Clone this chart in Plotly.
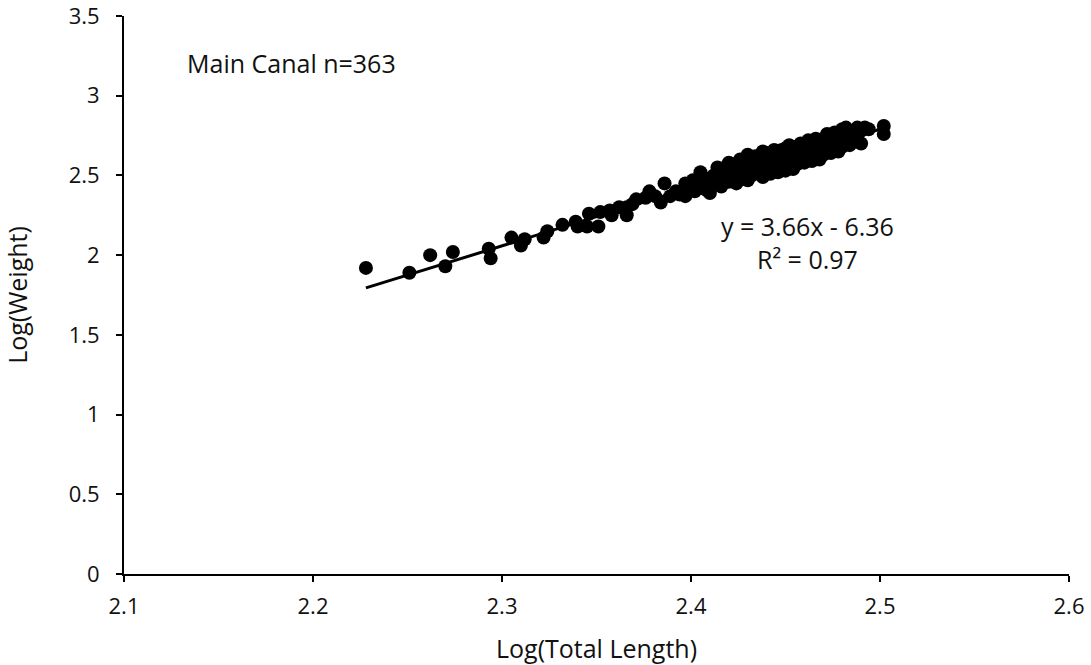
import plotly.graph_objects as go

# Sparse lower points
x_low = [2.228, 2.251, 2.262, 2.270, 2.274, 2.293, 2.294, 2.305, 2.310, 2.312,
         2.322, 2.324, 2.332, 2.339, 2.340, 2.345, 2.351, 2.346, 2.352, 2.357,
         2.358, 2.362, 2.366, 2.366, 2.369, 2.371, 2.376, 2.378, 2.381, 2.384,
         2.386, 2.389, 2.392, 2.394, 2.397, 2.397, 2.399, 2.401, 2.405, 2.405,
         2.407, 2.410, 2.411, 2.414, 2.416, 2.419, 2.421, 2.423]
y_low = [1.92, 1.89, 2.00, 1.93, 2.02, 2.04, 1.98, 2.11, 2.06, 2.10,
         2.11, 2.15, 2.19, 2.21, 2.18, 2.18, 2.18, 2.26, 2.27, 2.28,
         2.25, 2.30, 2.30, 2.25, 2.32, 2.35, 2.36, 2.40, 2.37, 2.33,
         2.45, 2.37, 2.40, 2.38, 2.37, 2.45, 2.43, 2.47, 2.44, 2.52,
         2.44, 2.39, 2.47, 2.55, 2.45, 2.50, 2.52, 2.57]

# Dense upper cluster
x_high = [2.402, 2.402, 2.404, 2.406, 2.408, 2.410, 2.412, 2.412, 2.414, 2.416,
          2.416, 2.418, 2.420, 2.420, 2.420, 2.422, 2.424, 2.424, 2.426, 2.426,
          2.428, 2.430, 2.430, 2.430, 2.430, 2.432, 2.432, 2.434, 2.436, 2.436,
          2.436, 2.438, 2.438, 2.440, 2.440, 2.440, 2.442, 2.442, 2.442, 2.444,
          2.444, 2.444, 2.446, 2.446, 2.446, 2.448, 2.448, 2.450, 2.450, 2.450,
          2.450, 2.452, 2.452, 2.454, 2.454, 2.454, 2.456, 2.456, 2.456, 2.458,
          2.458, 2.460, 2.460, 2.460, 2.462, 2.462, 2.464, 2.464, 2.464, 2.466,
          2.466, 2.468, 2.468, 2.468, 2.470, 2.470, 2.470, 2.472, 2.472, 2.474,
          2.474, 2.476, 2.476, 2.478, 2.478, 2.478, 2.480, 2.480, 2.482, 2.482,
          2.484, 2.484, 2.486, 2.486, 2.488, 2.490, 2.490, 2.494, 2.502, 2.502,
          2.418, 2.426, 2.434, 2.438, 2.448, 2.452, 2.458, 2.462, 2.466, 2.472,
          2.476, 2.480, 2.484, 2.488, 2.492, 2.444, 2.440, 2.456, 2.470, 2.480]
y_high = [2.40, 2.45, 2.42, 2.46, 2.41, 2.48, 2.44, 2.50, 2.47, 2.43,
          2.52, 2.49, 2.46, 2.53, 2.58, 2.48, 2.51, 2.45, 2.55, 2.49,
          2.52, 2.47, 2.56, 2.53, 2.63, 2.50, 2.58, 2.54, 2.52, 2.60,
          2.57, 2.49, 2.55, 2.64, 2.58, 2.53, 2.56, 2.61, 2.51, 2.59,
          2.54, 2.66, 2.57, 2.62, 2.52, 2.60, 2.55, 2.63, 2.58, 2.53,
          2.67, 2.61, 2.56, 2.64, 2.59, 2.54, 2.62, 2.68, 2.57, 2.65,
          2.60, 2.63, 2.58, 2.69, 2.66, 2.61, 2.64, 2.70, 2.59, 2.67,
          2.62, 2.65, 2.71, 2.60, 2.68, 2.63, 2.73, 2.66, 2.70, 2.64,
          2.69, 2.72, 2.67, 2.70, 2.75, 2.65, 2.73, 2.68, 2.80, 2.71,
          2.74, 2.69, 2.72, 2.77, 2.75, 2.70, 2.78, 2.79, 2.81, 2.76,
          2.55, 2.60, 2.62, 2.65, 2.66, 2.69, 2.70, 2.72, 2.73, 2.76,
          2.77, 2.79, 2.78, 2.80, 2.80, 2.62, 2.56, 2.64, 2.66, 2.70]

x_data = x_low + x_high
y_data = y_low + y_high

slope, intercept = 3.66, -6.36
r_squared = 0.97
trend_x = [min(x_data), max(x_data)]
trend_y = [slope * v + intercept for v in trend_x]

x_ticks = [2.1, 2.2, 2.3, 2.4, 2.5, 2.6]
y_ticks = [0, 0.5, 1, 1.5, 2, 2.5, 3, 3.5]

font_family = "Open Sans, Lato, sans-serif"
fs_tick = 22
fs_text = 25

fig = go.Figure()
fig.add_trace(go.Scatter(x=x_data, y=y_data, mode="markers",
                         marker=dict(color="black", size=14),
                         showlegend=False, hoverinfo="skip"))
fig.add_trace(go.Scatter(x=trend_x, y=trend_y, mode="lines",
                         line=dict(color="black", width=3),
                         showlegend=False, hoverinfo="skip"))

eq_text = f"y = {slope:.2f}x - {abs(intercept):.2f}<br>R² = {r_squared:.2f}"

fig.update_layout(
    width=1091, height=665,
    margin=dict(l=124, r=22, t=16, b=91),
    paper_bgcolor="white", plot_bgcolor="white",
    font=dict(family=font_family, size=fs_tick, color="#111111"),
    xaxis=dict(range=[2.1, 2.6], tickvals=x_ticks,
               ticktext=[f"{v:g}" for v in x_ticks],
               tickfont=dict(size=fs_tick),
               showgrid=False, zeroline=False, showline=True,
               linecolor="black", linewidth=2, ticks="outside",
               ticklen=6, tickwidth=2, tickcolor="black",
               automargin=False, ticklabelstandoff=6,
               ticklabeloverflow="allow",
               title=dict(text="Log(Total Length)", standoff=24,
                          font=dict(size=fs_text))),
    yaxis=dict(range=[0, 3.5], tickvals=y_ticks,
               ticktext=[f"{v:g}" for v in y_ticks],
               tickfont=dict(size=fs_tick),
               showgrid=False, zeroline=False, showline=True,
               linecolor="black", linewidth=2, ticks="outside",
               ticklen=6, tickwidth=2, tickcolor="black",
               automargin=False, ticklabelstandoff=12,
               ticklabeloverflow="allow",
               title=dict(text="Log(Weight)", standoff=39,
                          font=dict(size=fs_text))),
    annotations=[
        dict(x=2.1323, y=(574 - 63) / 159.4, xref="x", yref="y",
             text="Main Canal n=363", showarrow=False, xanchor="left",
             font=dict(size=fs_text)),
        dict(x=2.4616, y=(574 - 243) / 159.4, xref="x", yref="y",
             text=eq_text, showarrow=False, align="center",
             font=dict(size=fs_text)),
    ],
)

fig.write_html(
    "out.html",
    config={"displayModeBar": False},
    post_script="document.body.style.margin='0';document.body.style.overflow='hidden';",
)
